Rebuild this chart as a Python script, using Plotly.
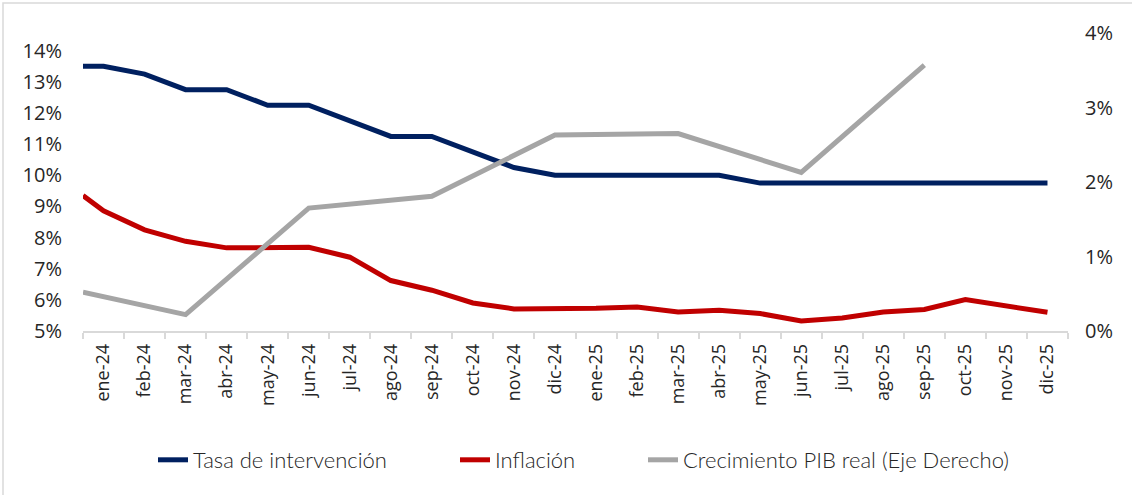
import plotly.graph_objects as go

months = ["ene-24", "feb-24", "mar-24", "abr-24", "may-24", "jun-24", "jul-24", "ago-24",
          "sep-24", "oct-24", "nov-24", "dic-24", "ene-25", "feb-25", "mar-25", "abr-25",
          "may-25", "jun-25", "jul-25", "ago-25", "sep-25", "oct-25", "nov-25", "dic-25"]

# value at the left edge of the axis (start of period), then one per month
tasa_start = 13.5
tasa = [13.5, 13.25, 12.75, 12.75, 12.25, 12.25, 11.75, 11.25, 11.25, 10.75, 10.25, 10.0,
        10.0, 10.0, 10.0, 10.0, 9.75, 9.75, 9.75, 9.75, 9.75, 9.75, 9.75, 9.75]

infl_start = 9.35
inflacion = [8.86, 8.25, 7.88, 7.67, 7.66, 7.69, 7.37, 6.62, 6.31, 5.90, 5.71, 5.71,
             5.73, 5.77, 5.61, 5.67, 5.56, 5.32, 5.42, 5.61, 5.69, 6.01, 5.80, 5.60]

pib_start = 0.52
pib_months = ["mar-24", "jun-24", "sep-24", "dic-24", "mar-25", "jun-25", "sep-25"]
pib = [0.22, 1.65, 1.81, 2.63, 2.65, 2.13, 3.57]

left_ticks = [5, 6, 7, 8, 9, 10, 11, 12, 13, 14]
right_ticks = [0, 1, 2, 3, 4]

idx = list(range(len(months)))
x_start = -0.5
pib_idx = [months.index(m) for m in pib_months]

BLUE = "#002060"
RED = "#C00000"
GRAY = "#A5A5A5"
FONT = "Open Sans"
TXT = "#262626"

# plot-area geometry (pixels)
L, R, T, B = 83, 1068, 33, 331
W, H = 1132, 495
PW, PH = R - L, B - T


def px_x(p):
    return (p - L) / PW


def px_y(p):
    return (B - p) / PH


fig = go.Figure()
fig.add_trace(go.Scatter(x=[x_start] + idx, y=[tasa_start] + tasa, mode="lines",
                         name="Tasa de intervención", legend="legend",
                         line=dict(color=BLUE, width=5)))
fig.add_trace(go.Scatter(x=[x_start] + idx, y=[infl_start] + inflacion, mode="lines",
                         name="Inflación", legend="legend2",
                         line=dict(color=RED, width=5)))
fig.add_trace(go.Scatter(x=[x_start] + pib_idx, y=[pib_start] + pib, mode="lines",
                         name="Crecimiento PIB real (Eje Derecho)", legend="legend3",
                         line=dict(color=GRAY, width=5), yaxis="y2"))

leg_common = dict(orientation="h", yanchor="middle", xanchor="left",
                  font=dict(family="Lato", size=22, color=TXT, weight=300), itemwidth=30,
                  bgcolor="rgba(0,0,0,0)")

fig.update_layout(
    width=W, height=H,
    paper_bgcolor="white", plot_bgcolor="white",
    margin=dict(l=L, r=W - R, t=T, b=H - B),
    font=dict(family=FONT, color=TXT),
    showlegend=True,
    legend=dict(x=px_x(153), y=px_y(460), **leg_common),
    legend2=dict(x=px_x(455), y=px_y(460), **leg_common),
    legend3=dict(x=px_x(643), y=px_y(460), **leg_common),
    xaxis=dict(
        range=[-0.5, len(months) - 0.5],
        tickmode="array", tickvals=idx, ticktext=months, tickangle=-90,
        ticks="", tickfont=dict(size=18, family=FONT, color=TXT),
        ticklabelstandoff=4,
        showline=True, linecolor="#D9D9D9", linewidth=1.5,
        showgrid=False, zeroline=False,
        minor=dict(ticks="outside", tick0=-0.5, dtick=1, ticklen=6,
                   tickcolor="#D9D9D9", tickwidth=1.5, showgrid=False),
    ),
    yaxis=dict(
        range=[5, 14.57], tickmode="array", tickvals=left_ticks,
        ticktext=[f"{v}%" for v in left_ticks],
        tickfont=dict(size=20, family=FONT, color=TXT),
        showgrid=False, zeroline=False, showline=False, ticks="",
        ticklabelstandoff=20,
    ),
    yaxis2=dict(
        range=[0, 4.001], tickmode="array", tickvals=right_ticks,
        ticktext=[f"{v}%" for v in right_ticks],
        overlaying="y", side="right",
        tickfont=dict(size=20, family=FONT, color=TXT),
        showgrid=False, zeroline=False, showline=False, ticks="",
        ticklabelstandoff=16,
    ),
)

# outer chart border (left and top edges visible)
fig.add_shape(type="rect", xref="paper", yref="paper",
              x0=px_x(3), x1=px_x(W + 5), y0=px_y(H + 5), y1=px_y(3),
              line=dict(color="#D9D9D9", width=1.5), fillcolor="rgba(0,0,0,0)", layer="below")

fig.write_html("out.html", config={"displayModeBar": False},
               post_script="document.body.style.margin='0';")
